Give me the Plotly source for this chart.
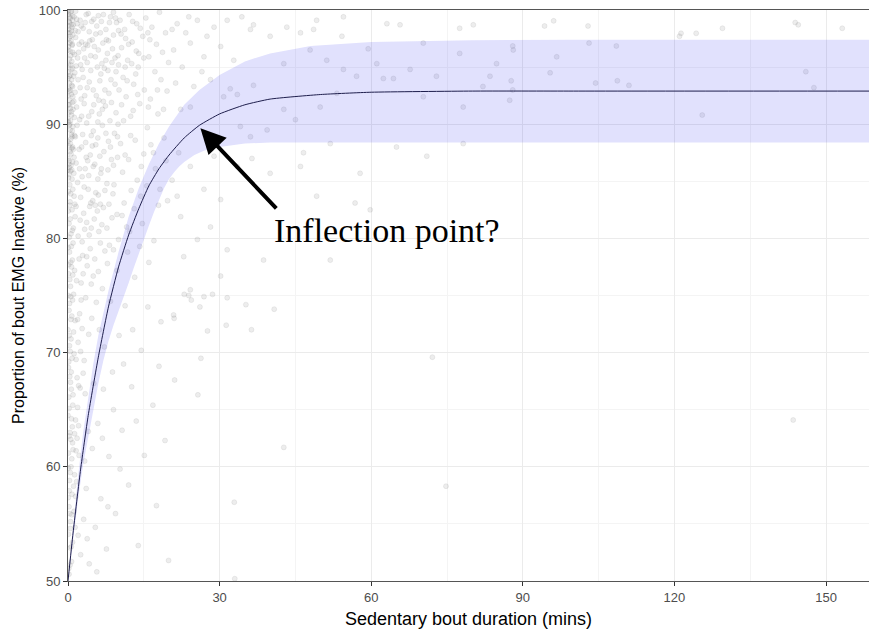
import plotly.graph_objects as go

# ---- fitted curve ----
curve_x = [0, 1, 2.5, 4, 6, 8, 10, 12, 14, 16, 18, 20, 23, 26, 30, 35, 40, 50, 60, 80, 100, 158.5]
curve_y = [50, 54.2, 59.8, 64.5, 69.6, 74.0, 77.5, 80.3, 82.6, 84.6, 86.1, 87.3, 88.8, 89.9, 90.9, 91.7, 92.2, 92.6, 92.8, 92.9, 92.9, 92.9]

# ---- confidence band edges ----
upper_x = [0, 1, 2, 3, 4, 5, 6, 7, 8, 10, 12, 14, 16, 18, 20, 23, 26, 30, 35, 40, 48, 60, 80, 100, 158.5]
upper_y = [50, 54.8, 59.2, 63.0, 66.1, 69.0, 71.5, 73.6, 75.4, 78.8, 81.9, 84.4, 86.5, 88.3, 89.8, 91.7, 93.0, 94.3, 95.5, 96.2, 96.85, 97.2, 97.35, 97.4, 97.4]
lower_x = [0, 1, 2, 3, 4, 5, 6, 7, 8, 9, 10, 11, 12, 13, 14, 15, 16, 17, 18, 19, 20, 21, 22, 23, 25, 27, 30, 35, 40, 50, 60, 158.5]
lower_y = [50, 53.8, 57.2, 60.2, 62.8, 65.0, 67.3, 69.3, 71.0, 72.4, 73.7, 74.9, 76.1, 77.4, 78.7, 79.9, 81.1, 82.3, 83.4, 84.4, 85.2, 85.8, 86.3, 86.7, 87.3, 87.7, 88.0, 88.3, 88.4, 88.45, 88.4, 88.4]

# ---- raw observations (bout duration, % inactive) ----
points = [
    (0.1,99.6),(0.3,98.9),(0.5,99.8),(0.2,97.5),(0.7,98.2),(0.4,96.4),(0.9,99.1),(0.1,95.2),(0.6,94.8),(0.3,93.6),
    (0.8,96.9),(0.2,92.1),(0.5,91.4),(0.9,93.3),(0.1,90.2),(0.4,89.5),(0.7,90.8),(0.2,88.1),(0.6,87.4),(0.3,86.2),
    (0.8,88.9),(0.1,85.3),(0.5,85.9),(0.9,86.7),(0.05,99.9),(0.15,98.3),(0.35,97.1),(0.55,96.0),(0.75,95.5),(0.95,97.8),
    (0.25,94.2),(0.45,93.0),(0.65,92.6),(0.85,91.9),(0.15,91.0),(0.35,90.0),(0.55,88.7),(0.75,87.9),(0.95,89.8),(0.05,87.0),
    (0.25,86.8),(0.45,99.3),(0.65,98.7),(0.85,99.5),(0.1,96.8),(0.3,95.7),(0.5,94.3),(0.7,93.9),(0.9,94.9),(0.2,99.0),
    (0.4,98.0),(0.6,97.3),(0.8,98.5),(0.0,98.0),(0.0,94.0),(0.0,90.5),(0.0,96.5),(0.0,92.5),(0.0,88.5),(0.0,86.0),
    (0.1,93.1),(0.3,91.7),(0.5,90.3),(0.7,89.1),(0.9,88.0),(0.2,85.6),(0.4,87.6),(0.6,86.4),(0.8,85.2),(0.95,92.4),
    (0.1,84.1),(0.4,83.2),(0.8,82.5),(0.2,81.3),(0.6,80.4),(1.0,79.6),(0.3,78.8),(0.7,77.5),(0.1,76.9),(0.5,75.8),
    (0.9,74.6),(0.2,73.7),(0.6,72.9),(1.1,71.8),(0.3,70.6),(0.8,69.5),(0.1,68.7),(0.5,67.4),(1.0,66.3),(0.2,65.1),
    (0.7,64.2),(0.4,63.0),(0.9,62.1),(0.1,61.2),(0.6,60.0),(0.3,58.8),(0.8,57.6),(0.2,56.5),(0.5,55.2),(0.1,54.1),
    (0.4,52.9),(0.7,51.7),(0.2,50.6),(1.2,83.7),(1.4,81.9),(1.3,77.2),(1.1,75.1),(1.4,72.8),(1.2,69.9),(1.0,61.5),
    (1.3,59.3),(1.2,56.1),(0.9,53.4),(1.1,58.3),(0.05,79.2),(0.3,74.3),(0.6,71.2),(0.15,66.1),(0.45,59.5),(0.75,55.8),
    (0.25,62.7),(0.55,77.9),(0.85,80.7),(0.35,82.9),(0.65,68.3),(0.95,65.4),(0.05,57.3),(0.4,51.4),(0.0,72.0),(0.0,64.5),
    (0.05,98.6),(0.25,99.4),(0.45,97.7),(0.65,99.9),(0.85,97.0),(1.05,98.7),(1.25,96.1),(1.45,98.2),(0.15,94.6),(0.35,92.9),
    (0.55,95.2),(0.75,93.4),(0.95,96.3),(1.15,92.0),(1.35,94.5),(0.05,91.7),(0.25,89.9),(0.45,88.3),(0.65,91.1),(0.85,89.4),
    (1.05,87.8),(1.25,90.6),(1.45,88.9),(0.15,86.5),(0.35,84.7),(0.55,83.9),(0.75,86.0),(0.95,84.3),(1.15,85.7),(1.35,83.0),
    (0.05,82.4),(0.25,80.1),(0.45,81.7),(0.65,79.3),(0.85,78.1),(1.05,80.9),(0.15,77.7),(0.35,76.4),(0.55,74.9),(0.75,73.2),
    (0.95,76.8),(0.05,75.0),(0.25,71.5),(0.45,70.1),(0.65,66.8),(0.85,63.5),(0.15,69.2),(0.35,67.9),(0.55,62.4),(0.75,60.7),
    (0.05,59.9),(0.25,57.9),(0.45,54.6),(0.65,53.0),(0.15,51.1),(0.35,55.9),
    (1.2,99.4),(1.5,97.6),(1.8,98.8),(2.1,96.3),(2.4,99.1),(2.7,97.2),(3.0,98.4),(3.3,95.8),(3.6,99.6),(3.9,96.9),
    (4.2,98.1),(4.5,94.7),(4.8,97.4),(5.1,99.2),(5.4,95.9),(5.7,98.6),(6.0,96.5),(6.3,93.8),(6.6,99.0),(6.9,97.1),
    (7.2,94.9),(7.5,98.3),(7.8,96.2),(8.1,92.7),(8.4,99.4),(8.7,95.4),(9.0,97.8),(9.3,93.5),(9.6,98.9),(9.9,96.0),
    (1.1,94.2),(1.4,92.8),(1.7,91.5),(2.0,93.9),(2.3,90.4),(2.6,92.2),(2.9,89.1),(3.2,91.8),(3.5,88.4),(3.8,93.2),
    (4.1,90.7),(4.4,87.3),(4.7,91.1),(5.0,89.4),(5.3,86.5),(5.6,92.5),(5.9,88.8),(6.2,90.9),(6.5,85.7),(6.8,89.9),
    (7.1,87.6),(7.4,91.6),(7.7,84.8),(8.0,88.5),(8.3,90.3),(8.6,86.9),(8.9,83.9),(9.2,89.2),(9.5,91.0),(9.8,87.1),
    (1.3,89.0),(1.6,86.6),(1.9,84.9),(2.2,87.8),(2.5,83.6),(2.8,85.4),(3.1,82.2),(3.4,86.1),(3.7,81.4),(4.0,84.3),
    (4.3,82.8),(4.6,80.9),(4.9,83.3),(5.2,81.7),(5.5,84.0),(5.8,82.4),(6.1,80.6),(6.4,83.0),(6.7,81.2),(7.0,82.7),
    (1.5,99.9),(2.0,98.1),(2.5,95.2),(3.0,94.1),(3.5,97.0),(4.0,99.7),(4.5,96.0),(5.0,93.0),(5.5,97.9),(6.0,99.5),
    (6.5,94.4),(7.0,92.0),(7.5,95.6),(8.0,97.3),(8.5,93.9),(9.0,99.8),(9.5,94.6),(10.0,98.2),(1.0,91.3),(1.2,87.1),
    (1.6,95.1),(2.7,88.0),(3.9,86.8),(4.8,88.1),(6.3,87.2),(7.9,86.0),(9.1,84.7),(9.7,82.1),
    (1.7,99.2),(2.2,97.0),(2.6,98.6),(3.1,96.6),(3.4,98.9),(3.8,95.4),(4.3,97.3),(4.7,99.0),(5.2,96.8),(5.8,95.0),
    (1.9,95.8),(2.4,93.2),(2.8,94.8),(3.3,92.5),(3.7,90.1),(4.2,93.7),(4.6,89.0),(5.1,91.7),(5.5,88.2),(5.9,90.2),
    (1.8,89.9),(2.3,86.1),(2.7,90.7),(3.2,84.5),(3.6,87.1),(4.1,85.5),(4.5,83.1),(5.0,86.3),(5.4,82.9),(5.9,85.2),
    (1.6,82.8),(2.0,80.2),(2.4,81.6),(2.8,79.7),(3.3,80.8),(3.7,78.4),(4.2,80.3),(1.7,76.3),(2.2,78.2),(2.6,74.6),
    (3.0,76.9),(1.9,72.9),(2.5,70.1),(1.6,69.4),(2.1,67.1),(1.9,65.2),(1.5,57.4),(1.8,62.5),(2.2,61.0),(1.4,54.7),
    (6.4,98.0),(7.0,99.6),(7.6,97.4),(8.2,98.9),(8.8,96.6),(9.4,99.3),(10.0,95.2),(10.5,97.9),(11.3,95.0),(12.0,97.0),
    (12.8,99.0),(13.5,96.4),(14.3,98.4),(15.0,95.8),(15.8,98.0),(6.7,95.3),(7.3,93.0),(7.9,94.7),(8.6,91.9),(9.3,95.8),
    (9.9,90.0),(10.6,91.7),(11.7,93.8),(12.6,95.3),(13.8,92.6),(6.1,92.1),(6.8,91.3),(7.5,89.2),(8.4,88.0),(9.0,86.4),
    (9.8,88.9),(11.3,87.3),(12.4,89.0),(6.6,86.1),(7.3,84.2),(8.1,83.0),(8.7,81.8),(6.0,83.8),(7.7,80.9),
    (1.5,64.1),(1.8,67.8),(2.0,70.9),(2.3,73.4),(2.6,76.1),(2.9,78.5),(3.2,69.3),(3.5,74.8),(3.8,77.6),(4.1,71.6),
    (4.4,79.1),(4.7,73.0),(5.0,76.7),(5.3,78.2),(5.6,74.4),(6.0,77.1),(6.4,79.6),(6.8,75.6),(7.3,78.9),(7.8,77.8),
    (8.2,79.4),(1.6,61.4),(2.1,63.6),(2.4,66.9),(3.0,68.2),(1.3,62.9),(1.7,58.7),(3.4,66.4),(2.8,72.1),(4.6,76.0),
    (9.0,79.0),(10.0,79.9),
    (2.5,52.3),(3.1,55.4),(3.6,58.1),(4.2,51.5),(4.8,61.6),(5.4,54.7),(5.9,63.8),(6.5,57.2),(7.0,66.8),(7.6,52.8),
    (8.1,60.9),(8.8,68.3),(9.4,55.9),(10.1,71.5),(10.7,63.2),(11.3,74.1),(12.0,58.4),(12.6,67.0),(13.2,76.6),(13.9,53.1),
    (14.5,70.2),(15.1,61.0),(16.0,77.9),(16.8,65.4),(17.5,56.6),(18.4,72.7),(19.2,62.3),(19.9,51.8),(2.0,54.0),(3.3,60.5),
    (4.0,63.1),(5.1,67.3),(6.2,72.0),(7.2,70.5),(8.4,74.5),(9.7,77.2),(11.8,78.8),(6.8,62.5),(9.0,65.0),(11.0,69.0),
    (12.8,72.0),(14.2,79.3),(15.8,74.0),(17.0,79.8),(3.8,53.7),(5.7,50.8),(7.9,56.5),(10.3,59.8),(13.5,64.0),(18.0,68.8),
    (10.3,99.1),(10.6,96.7),(10.9,94.1),(11.2,98.3),(11.5,92.4),(11.8,95.6),(12.1,99.6),(12.4,90.7),(12.7,97.2),(13.0,93.5),
    (13.3,88.6),(13.6,98.8),(13.9,95.0),(14.2,91.8),(14.5,86.3),(14.8,97.7),(15.1,93.0),(15.4,99.3),(15.7,89.7),(16.0,95.9),
    (16.3,92.2),(16.6,98.5),(16.9,87.5),(17.2,94.6),(17.5,97.0),(17.8,90.9),(18.1,99.8),(18.4,93.9),(18.7,96.3),(19.0,88.8),
    (19.3,98.0),(19.6,92.9),(19.9,95.4),(10.4,88.3),(10.8,85.8),(11.1,83.1),(11.6,81.0),(12.0,86.9),(12.5,84.2),(13.1,82.6),
    (13.7,85.1),(14.4,83.7),(15.0,87.4),(15.6,84.6),(16.4,88.2),(17.3,86.1),(18.2,84.3),(19.4,86.8),(11.0,90.3),(12.9,91.2),
    (14.0,96.2),(15.9,91.5),(17.7,93.0),(10.1,93.0),(11.4,97.5),(13.4,94.4),(16.2,97.4),(18.9,91.3),(10.7,82.0),(12.2,80.6),
    (14.7,81.3),(17.9,82.9),(19.7,83.3),
    (28.9,98.5),(34.4,99.4),(36.1,98.3),(36.7,98.7),(40.0,97.7),(43.3,98.5),(46.0,98.0),(48.6,98.3),(49.2,99.1),(54.5,99.4),
    (54.2,97.7),(59.4,96.6),(63.1,98.8),(65.7,98.7),(70.3,97.1),(77.5,98.4),(80.2,98.7),(88.1,96.5),(77.5,96.2),(61.1,95.3),
    (62.4,94.0),(64.4,94.0),(57.1,94.2),(53.2,92.7),(49.9,91.5),(45.0,90.4),(42.7,91.3),(39.4,89.5),(36.1,88.9),(34.1,89.8),
    (33.5,92.6),(36.7,93.4),(32.1,93.1),(30.8,92.4),(28.2,93.9),(26.5,94.6),(24.9,93.3),(24.2,91.5),(22.3,91.3),(21.9,87.5),
    (24.2,86.3),(28.9,87.2),(33.5,86.3),(36.4,87.0),(40.0,85.7),(46.0,86.3),(46.6,87.5),(51.9,88.3),(57.8,85.7),(65.0,88.0),
    (71.0,87.2),(78.2,88.3),(82.1,93.3),(87.4,92.1),(83.5,94.2),(70.3,92.4),(72.9,94.2),(67.7,94.8),(54.5,94.8),(51.2,95.6),
    (47.9,96.5),(42.7,95.3),(78.2,91.5),(84.8,95.3),(26.9,84.3),(30.2,83.4),(28.2,81.0),(25.6,79.9),(22.9,78.4),(30.2,76.7),
    (24.2,75.5),(26.9,74.9),(38.7,78.1),(22.3,81.9),(21.6,83.7),(20.6,85.1),(31.5,79.0),(49.2,83.7),(51.9,78.1),(59.8,82.5),
    (56.8,83.1),(21.6,98.8),(23.3,98.0),(20.9,96.5),(24.2,97.1),(25.6,99.1),(26.9,95.9),(22.6,95.0),(21.3,93.6),(20.6,98.3),
    (27.5,97.7),(30.2,96.8),(31.5,99.1),(32.8,95.6),(23.9,99.4),
    (23.0,75.1),(23.9,75.0),(24.4,74.6),(26.1,74.0),(28.6,75.1),(31.5,74.8),(20.9,73.3),(21.0,73.0),(27.6,71.9),(31.3,72.4),
    (35.2,74.2),(36.3,72.0),(40.8,73.8),(26.3,69.5),(21.1,67.6),(25.7,66.3),(42.7,61.7),(32.9,56.9),(33.0,50.2),(72.1,69.6),
    (74.8,58.3),
    (94.3,98.6),(96.1,99.05),(102.9,98.6),(103.1,97.1),(108.5,96.85),(96.7,95.9),(95.4,94.5),(104.4,93.6),(108.7,93.8),(111.0,93.4),
    (88.0,96.85),(87.7,93.8),(88.0,93.0),(121.0,97.7),(121.3,97.96),(124.3,97.96),(129.5,98.4),(125.5,90.8),(143.9,98.9),(144.5,98.7),
    (153.2,98.4),(146.0,94.6),(147.6,93.2),(143.5,64.1),
]
pt_x = [p[0] for p in points]
pt_y = [p[1] for p in points]

x_ticks = [0, 30, 60, 90, 120, 150]
y_ticks = [50, 60, 70, 80, 90, 100]

fig = go.Figure()

fig.add_trace(go.Scatter(
    x=pt_x, y=pt_y, mode="markers", hoverinfo="skip", showlegend=False,
    marker=dict(size=5, color="rgba(128,128,128,0.14)",
                line=dict(width=0.6, color="rgba(100,100,100,0.17)")),
))

fig.add_trace(go.Scatter(
    x=upper_x + lower_x[::-1], y=upper_y + lower_y[::-1],
    mode="lines", fill="toself", fillcolor="rgba(10,10,240,0.12)",
    line=dict(width=0), hoverinfo="skip", showlegend=False,
))

fig.add_trace(go.Scatter(
    x=curve_x, y=curve_y, mode="lines", hoverinfo="skip", showlegend=False,
    line=dict(color="#1e1e4c", width=1, shape="spline", smoothing=0.5),
))

# arrow
fig.add_annotation(
    x=26.2, y=89.65, ax=41.5, ay=82.5, xref="x", yref="y", axref="x", ayref="y",
    text="", showarrow=True, arrowhead=2, arrowsize=1.25, arrowwidth=4,
    arrowcolor="black", standoff=0,
)
fig.add_annotation(
    x=40.3, y=80.7, xref="x", yref="y", text="Inflection point?",
    showarrow=False, xanchor="left", yanchor="middle",
    font=dict(family="Liberation Serif", size=34, color="black"),
)

axis_common = dict(
    showgrid=True, gridcolor="#ebebeb", gridwidth=1.1,
    ticks="outside", ticklen=4, tickcolor="#333333", tickwidth=1,
    showline=True, linecolor="#555555", linewidth=1, zeroline=False,
    tickfont=dict(family="Liberation Sans", size=13, color="#4d4d4d"),
)

fig.update_layout(
    width=869, height=630, autosize=False,
    margin=dict(l=67.5, r=0, t=10, b=48.5),
    paper_bgcolor="white", plot_bgcolor="white",
    xaxis=dict(
        range=[0, 158.5], tickvals=x_ticks, mirror=True,
        minor=dict(dtick=15, tick0=0, showgrid=True, gridcolor="#f4f4f4", gridwidth=0.6),
        title=dict(text="Sedentary bout duration (mins)", standoff=8,
                   font=dict(family="Liberation Sans", size=18, color="black")),
        **axis_common,
    ),
    yaxis=dict(
        range=[50, 100], tickvals=y_ticks,
        minor=dict(dtick=5, tick0=50, showgrid=True, gridcolor="#f4f4f4", gridwidth=0.6),
        title=dict(text="Proportion of bout EMG Inactive (%)", standoff=10,
                   font=dict(family="Liberation Sans", size=16, color="black")),
        **axis_common,
    ),
)

fig.write_html(
    "out.html",
    config={"displayModeBar": False},
    post_script="document.body.style.margin='0px';document.body.style.overflow='hidden';",
)
